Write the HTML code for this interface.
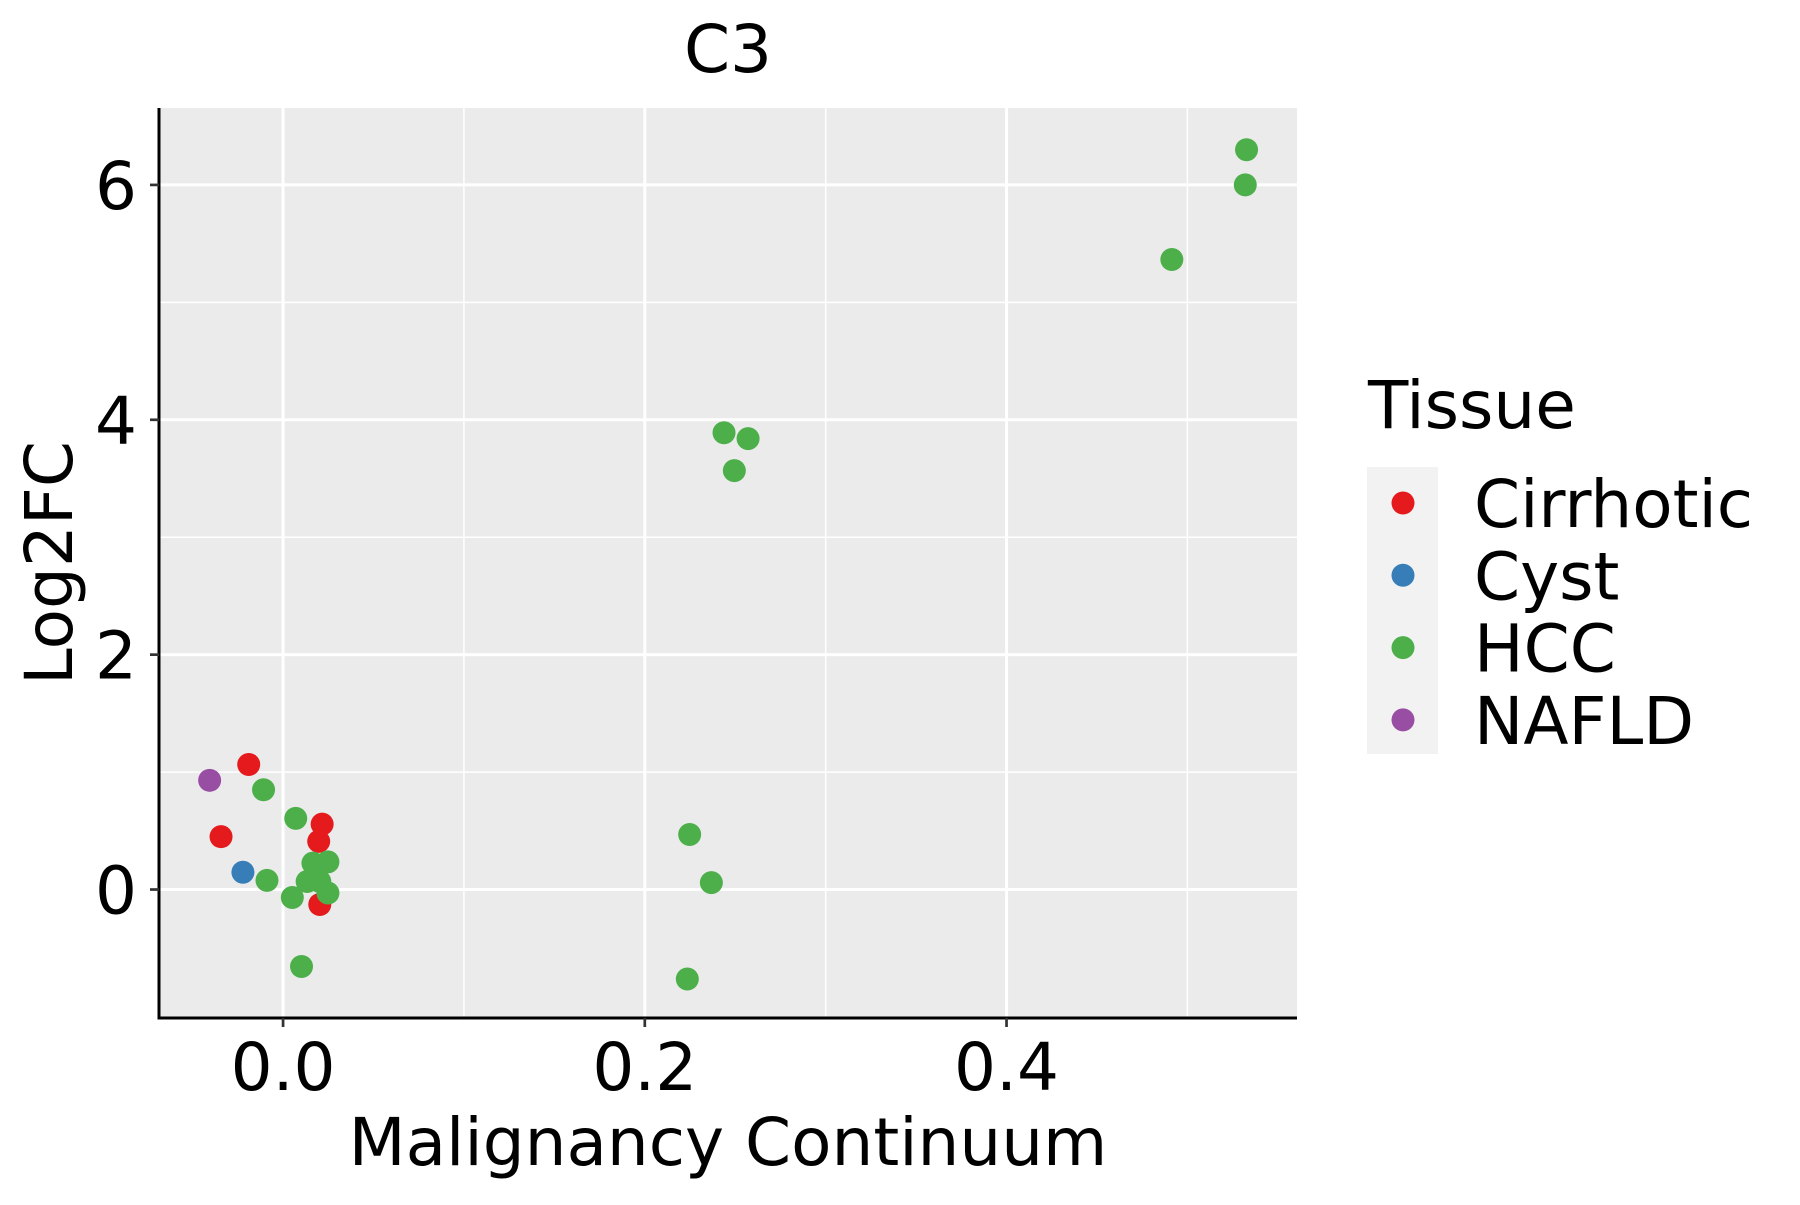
<!DOCTYPE html>
<html><head><meta charset="utf-8"><style>
body{margin:0;background:#fff}
svg text{font-family:"DejaVu Sans","Liberation Sans",sans-serif;fill:#000}
</style></head><body>
<svg id="chart" width="1800" height="1200" viewBox="0 0 1800 1200">
<text x="728" y="72" font-size="66" text-anchor="middle">C3</text>
<rect x="159" y="108" width="1138" height="910" fill="#ebebeb"/>
<g id="grid"></g>
<g id="points"></g>
<line x1="159" y1="108" x2="159" y2="1019.5" stroke="#000" stroke-width="3"/>
<line x1="157.5" y1="1018" x2="1297" y2="1018" stroke="#000" stroke-width="3"/>
<g id="ticks"></g>
<text x="728" y="1165" font-size="66" text-anchor="middle">Malignancy Continuum</text>
<text transform="translate(72,563) rotate(-90)" font-size="66" text-anchor="middle">Log2FC</text>
<text x="1368" y="428" font-size="66">Tissue</text>
<rect x="1367" y="467" width="71" height="287" fill="#f2f2f2"/>
<g id="legend"></g>
</svg>
<script>
const categories = ["Cirrhotic","Cyst","HCC","NAFLD"];
const colors = ["#e41a1c","#377eb8","#4daf4a","#984ea3"];
const xValues = [-0.0406,-0.019,-0.0343,0.0216,0.0197,0.0203,-0.0222,-0.0108,0.007,-0.0089,0.0051,0.0102,0.0165,0.0248,0.0133,0.0203,0.0248,0.2248,0.2368,0.2235,0.2438,0.2571,0.2495,0.4914,0.5327,0.532];
const yValues = [0.93,1.065,0.45,0.557,0.41,-0.127,0.147,0.85,0.606,0.078,-0.068,-0.655,0.225,0.235,0.068,0.068,-0.03,0.469,0.059,-0.762,3.89,3.84,3.567,5.365,6.30,6.0];
const groups = ["NAFLD","Cirrhotic","Cirrhotic","Cirrhotic","Cirrhotic","Cirrhotic","Cyst","HCC","HCC","HCC","HCC","HCC","HCC","HCC","HCC","HCC","HCC","HCC","HCC","HCC","HCC","HCC","HCC","HCC","HCC","HCC"];
const xTicks = [0.0,0.2,0.4];
const xTickLabels = ["0.0","0.2","0.4"];
const yTicks = [0,2,4,6];
const yTickLabels = ["0","2","4","6"];
const xMinor = [0.1,0.3,0.5];
const yMinor = [1,3,5];

const X0=159,X1=1297,Y0=1018,Y1=108,xmin=-0.0686,xmax=0.5606,ymin=-1.094,ymax=6.655;
const sx=v=>X0+(v-xmin)/(xmax-xmin)*(X1-X0);
const sy=v=>Y0-(v-ymin)/(ymax-ymin)*(Y0-Y1);
const NS="http://www.w3.org/2000/svg";
function mk(tag,attrs,parent){const e=document.createElementNS(NS,tag);for(const k in attrs)e.setAttribute(k,attrs[k]);parent.appendChild(e);return e;}
const grid=document.getElementById('grid'),pts=document.getElementById('points'),ticks=document.getElementById('ticks'),leg=document.getElementById('legend');
xMinor.forEach(v=>{const l=mk('line',{x1:sx(v),x2:sx(v),y1:Y1,y2:Y0,stroke:'#fff','stroke-width':1.5},grid);

});
yMinor.forEach(v=>{const l=mk('line',{x1:X0,x2:X1,y1:sy(v),y2:sy(v),stroke:'#fff','stroke-width':1.5},grid);

});
xTicks.forEach((v,i)=>{const l=mk('line',{x1:sx(v),x2:sx(v),y1:Y1,y2:Y0,stroke:'#fff','stroke-width':3},grid);


const t=mk('line',{x1:sx(v),x2:sx(v),y1:Y0,y2:Y0+9,stroke:'#333','stroke-width':2.7},ticks);


const tx=mk('text',{x:sx(v),y:1090,'font-size':66,'text-anchor':'middle'},ticks);tx.textContent=xTickLabels[i];

});
yTicks.forEach((v,i)=>{const l=mk('line',{x1:X0,x2:X1,y1:sy(v),y2:sy(v),stroke:'#fff','stroke-width':3},grid);


const t=mk('line',{x1:X0-9,x2:X0,y1:sy(v),y2:sy(v),stroke:'#333','stroke-width':2.7},ticks);


const tx=mk('text',{x:137,y:sy(v)+24,'font-size':66,'text-anchor':'end'},ticks);tx.textContent=yTickLabels[i];

});
xValues.forEach((v,i)=>{const c=mk('circle',{cx:sx(v),cy:sy(yValues[i]),r:11.5,fill:colors[categories.indexOf(groups[i])]},pts);

});
categories.forEach((c,i)=>{const y=503+i*72.3;
const k=mk('circle',{cx:1403,cy:y,r:11.5,fill:colors[i]},leg);


const t=mk('text',{x:1474,y:y+24,'font-size':66},leg);t.textContent=c;

});
</script>
</body></html>
